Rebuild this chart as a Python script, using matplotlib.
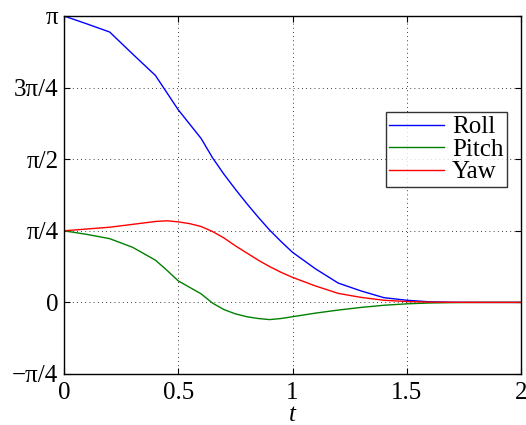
import numpy as np
import matplotlib.pyplot as plt

t = [0.0, 0.1, 0.2, 0.3, 0.4, 0.45, 0.5, 0.55, 0.6, 0.65, 0.7, 0.75, 0.8, 0.85, 0.9, 0.95, 1.0,
     1.1, 1.2, 1.3, 1.4, 1.5, 1.6, 1.7, 1.8, 1.9, 2.0]
# values in units of pi/4
roll = [4.0, 3.89, 3.776, 3.47, 3.17, 2.93, 2.69, 2.49, 2.29, 2.02, 1.79, 1.58, 1.38, 1.19, 1.01, 0.85, 0.70,
        0.47, 0.27, 0.16, 0.066, 0.03, 0.008, 0.002, 0.0, 0.0, 0.0]
pitch = [1.0, 0.95, 0.89, 0.77, 0.59, 0.45, 0.30, 0.21, 0.12, -0.01, -0.10, -0.16, -0.20, -0.225, -0.24, -0.225, -0.20,
         -0.15, -0.107, -0.07, -0.04, -0.02, -0.008, -0.003, 0.0, 0.0, 0.0]
yaw = [1.0, 1.025, 1.05, 1.09, 1.13, 1.14, 1.125, 1.10, 1.06, 0.99, 0.90, 0.79, 0.69, 0.59, 0.50, 0.42, 0.35,
       0.23, 0.126, 0.07, 0.03, 0.012, 0.004, 0.001, 0.0, 0.0, 0.0]

yticks = [-1, 0, 1, 2, 3, 4]
yticklabels = ["\u2212\u03c0/4", "0", "\u03c0/4", "\u03c0/2", "3\u03c0/4", "\u03c0"]
xticks = [0, 0.5, 1, 1.5, 2]
xticklabels = ["0", "0.5", "1", "1.5", "2"]

plt.rcParams["font.family"] = ["Liberation Serif", "DejaVu Serif"]

fig = plt.figure(figsize=(5.26, 4.25), dpi=100)
ax = fig.add_axes([64 / 526, 1 - 374 / 425, 457 / 526, 358 / 425])

q = np.pi / 4
ax.plot(t, np.array(roll) * q, color="#0000ff", lw=1.0, label="Roll")
ax.plot(t, np.array(pitch) * q, color="#008000", lw=1.0, label="Pitch")
ax.plot(t, np.array(yaw) * q, color="#ff0000", lw=1.0, label="Yaw")

ax.set_xlim(0, 2)
ax.set_ylim(-q, 4 * q)
ax.set_xticks(xticks)
ax.set_xticklabels(xticklabels)
ax.set_yticks([v * q for v in yticks])
ax.set_yticklabels(yticklabels)
ax.tick_params(direction="in", top=True, right=True, labelsize=18, length=4, width=0.8)
ax.tick_params(axis="x", pad=6)
ax.tick_params(axis="y", pad=4)
ax.grid(True, color="black", linestyle=(0, (1, 4)), linewidth=0.6)
for s in ax.spines.values():
    s.set_linewidth(1.0)

ax.set_xlabel("t", fontsize=18, style="italic", va="top")
ax.xaxis.set_label_coords(0.5, -30 / 358)

leg = ax.legend(loc="upper right", bbox_to_anchor=(507 / 526, 1 - 112 / 425), bbox_transform=fig.transFigure,
                fontsize=18, frameon=True, fancybox=False, edgecolor="black", handlelength=2.2,
                labelspacing=0.0, borderpad=0.15, handletextpad=0.3, borderaxespad=0)
leg.get_frame().set_linewidth(1.0)

fig.savefig("out.png", dpi=100)
